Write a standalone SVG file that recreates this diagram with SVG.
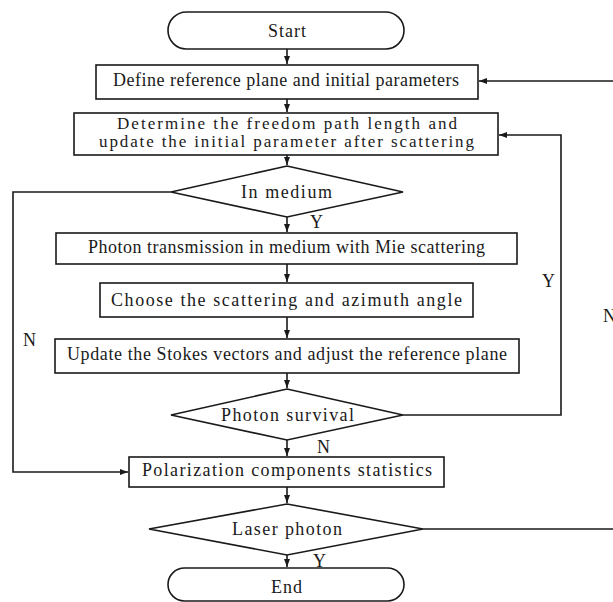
<svg xmlns="http://www.w3.org/2000/svg" width="613" height="602" viewBox="0 0 613 602">
<style>
.n{fill:#fff;stroke:#1a1a1a;stroke-width:1.6}
.t{font-family:"Liberation Serif","Times New Roman",serif;font-size:18px;fill:#1a1a1a}
.s{font-size:17px}
.c{fill:none;stroke:#1a1a1a;stroke-width:1.6}
</style>
<defs>
<marker id="ah" markerUnits="userSpaceOnUse" markerWidth="9" markerHeight="7" refX="8" refY="3.5" orient="auto">
<path d="M0,0.5 L8,3.5 L0,6.5 z" fill="#1a1a1a"/>
</marker>
</defs>
<rect width="613" height="602" fill="#fff"/>
<g id="connectors">
<line class="c" x1="287" y1="49" x2="287" y2="64" marker-end="url(#ah)"/>
<line class="c" x1="287" y1="99" x2="287" y2="112" marker-end="url(#ah)"/>
<line class="c" x1="287" y1="155" x2="287" y2="165" marker-end="url(#ah)"/>
<line class="c" x1="287" y1="217" x2="287" y2="232" marker-end="url(#ah)"/>
<line class="c" x1="287" y1="264" x2="287" y2="282" marker-end="url(#ah)"/>
<line class="c" x1="287" y1="317" x2="287" y2="338" marker-end="url(#ah)"/>
<line class="c" x1="287" y1="373" x2="287" y2="388" marker-end="url(#ah)"/>
<line class="c" x1="287" y1="440" x2="287" y2="456" marker-end="url(#ah)"/>
<line class="c" x1="287" y1="487" x2="287" y2="503" marker-end="url(#ah)"/>
<line class="c" x1="287" y1="555" x2="287" y2="567" marker-end="url(#ah)"/>
<polyline class="c" points="171,192 13,192 13,472 128,472" marker-end="url(#ah)"/>
<polyline class="c" points="403,415 561,415 561,135 499,135" marker-end="url(#ah)"/>
<line class="c" x1="423" y1="529" x2="613" y2="529"/>
<line class="c" x1="613" y1="81" x2="479" y2="81" marker-end="url(#ah)"/>
</g>
<g id="start"><rect class="n" x="168" y="12" width="236" height="37" rx="18.5"/><text class="t" x="268" y="37" textLength="38">Start</text></g>
<g id="define"><rect class="n" x="96" y="65" width="382" height="34"/><text class="t" x="113" y="86" textLength="346">Define reference plane and initial parameters</text></g>
<g id="determine"><rect class="n" x="74" y="113" width="424" height="42"/><text class="t s" x="117" y="129" textLength="340">Determine the freedom path length and</text><text class="t s" x="99" y="147" textLength="375">update the initial parameter after scattering</text></g>
<g id="inmedium"><polygon class="n" points="287,166 403,192 287,217 171,192"/><text class="t" x="241" y="198" textLength="91">In medium</text></g>
<g id="transmission"><rect class="n" x="56" y="233" width="461" height="31"/><text class="t" x="88" y="253" textLength="397">Photon transmission in medium with Mie scattering</text></g>
<g id="choose"><rect class="n" x="100" y="283" width="373" height="34"/><text class="t" x="111" y="306" textLength="351">Choose the scattering and azimuth angle</text></g>
<g id="update"><rect class="n" x="55" y="339" width="464" height="34"/><text class="t" x="67" y="360" textLength="440">Update the Stokes vectors and adjust the reference plane</text></g>
<g id="survival"><polygon class="n" points="287,389 403,415 287,440 171,415"/><text class="t" x="221" y="421" textLength="133">Photon survival</text></g>
<g id="statistics"><rect class="n" x="129" y="457" width="315" height="30"/><text class="t" x="142" y="476" textLength="290">Polarization components statistics</text></g>
<g id="laser"><polygon class="n" points="287,504 423,529 287,555 149,529"/><text class="t" x="232" y="535" textLength="110">Laser photon</text></g>
<g id="end"><rect class="n" x="168" y="568" width="236" height="33" rx="16.5"/><text class="t" x="271" y="593" textLength="31">End</text></g>
<g id="labels">
<text class="t" x="310" y="228">Y</text>
<text class="t" x="317" y="453">N</text>
<text class="t" x="313" y="567">Y</text>
<text class="t" x="542" y="287">Y</text>
<text class="t" x="603" y="322">N</text>
<text class="t" x="23" y="346">N</text>
</g>
</svg>
